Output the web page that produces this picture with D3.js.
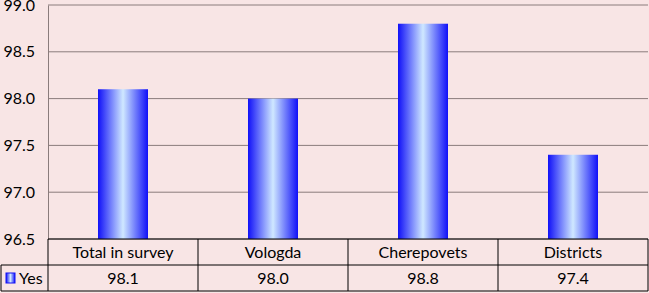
<!DOCTYPE html>
<html>
<head>
<meta charset="utf-8">
<script src="https://cdn.jsdelivr.net/npm/d3@7"></script>
<style>
  body { margin: 0; background: #f8e5e5; }
  svg { display: block; }
</style>
</head>
<body>
<svg id="chart"></svg>
<script>
const categories = ["Total in survey", "Vologda", "Cherepovets", "Districts"];
const yesValues = [98.1, 98.0, 98.8, 97.4];
const yTicks = [96.5, 97.0, 97.5, 98.0, 98.5, 99.0];
const seriesName = "Yes";

const width = 649, height = 293;
const margin = {top: 5, right: 1, bottom: 54, left: 48};
const rowH = 26;
const fontSize = "16px";

const svg = d3.select("#chart")
    .attr("width", width)
    .attr("height", height);

svg.append("rect")
    .attr("width", width).attr("height", height)
    .attr("fill", "#f8e5e5");

const defs = svg.append("defs");
const grad = defs.append("linearGradient")
    .attr("id", "barGrad")
    .attr("x1", "0%").attr("x2", "100%").attr("y1", "0%").attr("y2", "0%");
grad.append("stop").attr("offset", "0%").attr("stop-color", "#1010f8");
grad.append("stop").attr("offset", "50%").attr("stop-color", "#cfe8ff");
grad.append("stop").attr("offset", "100%").attr("stop-color", "#1010f8");

const x = d3.scaleBand()
    .domain(categories)
    .range([margin.left, width - margin.right])
    .paddingInner(0)
    .paddingOuter(0);

const y = d3.scaleLinear()
    .domain([96.5, 99.0])
    .range([height - margin.bottom, margin.top]);

// grid lines
svg.append("g")
    .selectAll("line")
    .data(yTicks)
    .join("line")
    .attr("x1", margin.left)
    .attr("x2", width - margin.right)
    .attr("y1", d => y(d))
    .attr("y2", d => y(d))
    .attr("stroke", "#8a7c7c")
    .attr("stroke-width", 1);

// y axis
const yAxis = svg.append("g")
    .attr("transform", `translate(${margin.left},0)`)
    .call(d3.axisLeft(y).tickValues(yTicks).tickFormat(d3.format(".1f")).tickSize(0).tickPadding(13));
yAxis.select(".domain").attr("stroke", "#8a7c7c");
yAxis.selectAll("text")
    .style("font-family", "Lato")
    .style("font-size", fontSize)
    .attr("fill", "#000");

// bars
const barW = x.bandwidth() / 3;
svg.append("g")
    .selectAll("rect")
    .data(categories)
    .join("rect")
    .attr("x", d => x(d) + (x.bandwidth() - barW) / 2)
    .attr("y", (d, i) => y(yesValues[i]))
    .attr("width", barW)
    .attr("height", (d, i) => y(96.5) - y(yesValues[i]))
    .attr("fill", "url(#barGrad)");

// data table
const tableTop = height - margin.bottom;
const table = svg.append("g")
    .attr("stroke", "#000")
    .attr("stroke-width", 1)
    .attr("fill", "none");

table.append("line")
    .attr("x1", margin.left).attr("x2", width - margin.right)
    .attr("y1", tableTop).attr("y2", tableTop);
table.append("line")
    .attr("x1", 1).attr("x2", width - margin.right)
    .attr("y1", tableTop + rowH).attr("y2", tableTop + rowH);
table.append("line")
    .attr("x1", 1).attr("x2", width - margin.right)
    .attr("y1", tableTop + 2 * rowH).attr("y2", tableTop + 2 * rowH);
table.append("line")
    .attr("x1", 1).attr("x2", 1)
    .attr("y1", tableTop + rowH).attr("y2", tableTop + 2 * rowH);

const colEdges = categories.map(d => x(d)).concat([width - margin.right]);
table.selectAll(".vline")
    .data(colEdges)
    .join("line")
    .attr("class", "vline")
    .attr("x1", d => d).attr("x2", d => d)
    .attr("y1", tableTop).attr("y2", tableTop + 2 * rowH);

const txt = svg.append("g")
    .style("font-family", "Lato")
    .style("font-size", fontSize)
    .attr("text-anchor", "middle")
    .attr("fill", "#000");

txt.selectAll(".cat")
    .data(categories)
    .join("text")
    .attr("x", d => x(d) + x.bandwidth() / 2)
    .attr("y", tableTop + rowH / 2)
    .attr("dy", "0.36em")
    .text(d => d);

txt.selectAll(".val")
    .data(categories)
    .join("text")
    .attr("x", d => x(d) + x.bandwidth() / 2)
    .attr("y", tableTop + rowH * 1.5)
    .attr("dy", "0.36em")
    .text((d, i) => yesValues[i].toFixed(1));

// legend key
svg.append("rect")
    .attr("x", 6).attr("y", tableTop + rowH * 1.5 - 5)
    .attr("width", 9).attr("height", 10)
    .attr("fill", "url(#barGrad)")
    .attr("stroke", "#1010f8");
svg.append("text")
    .attr("x", 19).attr("y", tableTop + rowH * 1.5)
    .attr("dy", "0.36em")
    .style("font-family", "Lato")
    .style("font-size", fontSize)
    .text(seriesName);
</script>
</body>
</html>
